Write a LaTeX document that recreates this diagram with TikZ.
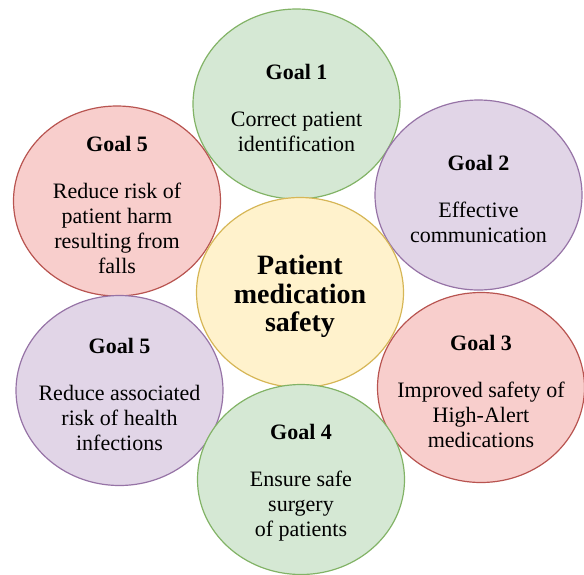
\documentclass[tikz,border=0pt]{standalone}
\usepackage{fontspec}
\setmainfont{Liberation Serif}
\usetikzlibrary{shapes.geometric}
\definecolor{gfill}{HTML}{D5E8D4}\definecolor{gline}{HTML}{82B366}
\definecolor{pfill}{HTML}{E1D5E7}\definecolor{pline}{HTML}{9673A6}
\definecolor{rfill}{HTML}{F8CECC}\definecolor{rline}{HTML}{B85450}
\definecolor{yfill}{HTML}{FFF2CC}\definecolor{yline}{HTML}{D6B656}
\begin{document}
\begin{tikzpicture}[x=1pt,y=-1pt,
  goal/.style={ellipse, minimum width=207pt, minimum height=190pt, inner sep=0pt, line width=1.2pt},
  gtext/.style={align=center, font=\fontsize{22}{25}\selectfont, inner sep=0pt, yshift=-3.5pt},
  ctext/.style={align=center, font=\fontsize{28}{28.5}\selectfont\bfseries, inner sep=0pt, yshift=-4pt}]
\useasboundingbox (0,0) rectangle (584,574);
\node[goal, fill=gfill, draw=gline] (g1) at (296.5,104) {};
\node[goal, fill=rfill, draw=rline] (g5a) at (117,201) {};
\node[goal, fill=pfill, draw=pline] (g2) at (478.5,195) {};
\node[goal, fill=yfill, draw=yline] (c) at (300,292.5) {};
\node[goal, fill=pfill, draw=pline] (g5b) at (119.5,390.5) {};
\node[goal, fill=rfill, draw=rline] (g3) at (481,387.5) {};
\node[goal, fill=gfill, draw=gline] (g4) at (301,479.5) {};
\node[gtext] (g1t) at (g1.center) {\textbf{Goal 1}\\[22pt]Correct patient\\identification};
\node[gtext] (g5at) at (g5a.center) {\textbf{Goal 5}\\[22pt]Reduce risk of\\patient harm\\resulting from\\falls};
\node[gtext] (g2t) at (g2.center) {\textbf{Goal 2}\\[22pt]Effective\\communication};
\node[ctext] (ct) at (c.center) {Patient\\medication\\safety};
\node[gtext] (g5bt) at (g5b.center) {\textbf{Goal 5}\\[22pt]Reduce associated\\risk of health\\infections};
\node[gtext] (g3t) at (g3.center) {\textbf{Goal 3}\\[22pt]Improved safety of\\High-Alert\\medications};
\node[gtext] (g4t) at (g4.center) {\textbf{Goal 4}\\[22pt]Ensure safe\\surgery\\of patients};
\end{tikzpicture}
\end{document}
